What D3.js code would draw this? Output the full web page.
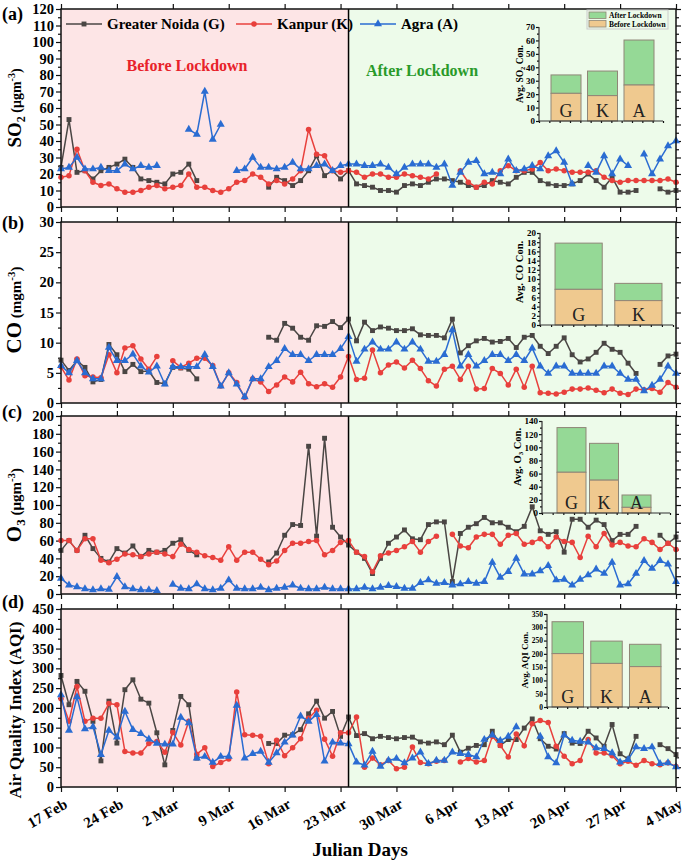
<!DOCTYPE html>
<html><head><meta charset="utf-8">
<script src="https://cdn.jsdelivr.net/npm/d3@7"></script>
<style>body{margin:0;background:#fff} svg{display:block}</style>
</head><body>
<svg id="chart" width="685" height="863"></svg>
<script>
// ---------------- DATA ----------------
const seriesNames = ["Greater Noida (G)", "Kanpur (K)", "Agra (A)"];
const tickLabels = ["17 Feb","24 Feb","2 Mar","9 Mar","16 Mar","23 Mar","30 Mar","6 Apr","13 Apr","20 Apr","27 Apr","4 May"];
const startDay = new Date(Date.UTC(2020,1,17));
const endDay = new Date(Date.UTC(2020,4,4));
const lockdownDay = new Date(Date.UTC(2020,2,24));

const SO2_G = [24,53,21,22,17,22,24,26,29,24, 17,16,15,14,20,21,26,16,null,null,
  null,null,null,null,null,null,12,18,16,13, 16,22,31,19,22,17,22,14,13,12,
  10,10,9,13,14,13,15,17,17,16, 15,13,12,13,16,15,14,18,21,21,
  16,14,13,13,14,16,20,16,12,18, 9,9,10,null,null,11,9,10];
const SO2_K = [18,19,35,22,15,13,14,11,9,9, 10,12,13,11,12,13,20,12,12,10,
  9,11,15,16,20,18,14,16,14,17, 22,47,32,31,22,21,22,21,18,20,
  20,18,18,20,19,18,17,20,null,null, 22,15,12,15,14,22,25,22,22,23,
  27,22,23,22,21,21,21,22,18,16, 15,16,16,16,16,16,17,15];
const SO2_A = [23,24,30,23,23,24,22,22,26,23, 25,24,25,null,null,null,47,44,70,41,
  50,null,22,23,30,24,24,23,24,27, 23,23,25,26,22,25,26,26,25,25,
  26,24,20,24,26,26,26,24,26,13, 21,27,28,20,21,20,29,22,23,25,
  23,31,34,27,14,null,25,21,31,20, 29,25,null,32,20,29,37,40];

const CO_G = [7.1,5.4,7.0,5.9,3.5,3.9,9.7,8.0,5.2,6.4, 5.2,5.3,3.4,3.2,5.9,5.8,5.6,4.0,null,null,
  null,null,null,null,null,null,10.9,10.4,13.2,12.4, 10.9,10.4,12.8,12.7,13.5,12.5,13.9,10.3,13.4,12.0,
  12.6,12.4,12.0,12.0,12.3,11.3,11.2,11.2,10.8,13.9, 8.3,9.5,10.3,10.7,10.1,10.2,10.7,9.2,10.9,11.2,
  9.4,8.2,9.4,10.8,8.0,6.8,7.3,8.4,9.9,8.9, 8.4,6.6,4.9,null,null,6.4,7.8,8.1];
const CO_K = [6.0,3.8,7.3,4.5,4.3,4.2,8.0,5.0,9.1,9.5, 7.3,5.6,7.7,null,7.0,5.9,6.6,7.4,7.4,6.2,
  2.8,5.0,3.4,0.9,4.0,3.5,1.9,3.0,4.3,3.5, 5.1,3.2,2.7,3.2,2.6,4.3,7.7,3.9,4.1,8.8,
  5.0,6.3,6.8,5.8,7.1,5.7,3.7,2.8,5.6,6.1, 3.9,6.1,2.3,2.4,5.7,4.9,3.0,5.6,2.6,6.1,
  1.7,1.6,1.5,1.8,2.3,2.3,2.5,2.1,1.7,2.3, 1.6,1.4,2.3,2.2,2.4,1.8,3.4,2.6];
const CO_A = [6.2,5.0,7.0,5.0,4.0,4.0,9.2,7.0,7.0,8.1, 6.1,5.1,6.1,3.1,6.0,6.0,6.0,6.0,8.0,6.0,
  2.8,5.0,3.1,1.0,4.0,4.0,6.0,7.0,9.0,8.0, 8.0,7.0,8.0,8.0,8.0,9.0,11.0,6.9,8.9,10.1,
  8.9,8.9,10.1,8.9,10.1,8.9,6.9,6.9,8.0,12.1, 6.1,8.0,6.1,7.0,8.0,8.0,7.0,8.0,7.0,9.1,
  6.1,4.9,6.1,6.1,4.9,4.9,4.9,4.9,6.1,6.1, 4.9,3.9,3.9,2.0,2.9,3.9,6.1,4.9];

const O3_G = [49,60,49,66,51,40,36,51,46,54, 42,49,47,49,57,61,49,44,null,null,
  null,null,null,null,null,null,36,46,66,78, 77,166,65,175,75,64,55,47,40,23,
  40,57,64,72,62,61,78,81,81,14, 68,75,79,86,80,80,75,70,76,98,
  71,67,70,47,84,84,75,83,78,60, 67,67,76,null,null,66,57,64];
const O3_K = [60,60,49,62,62,38,35,39,45,44, 42,45,47,45,42,56,50,47,43,41,
  38,53,38,47,47,39,33,37,49,57, 57,59,60,44,49,58,60,47,42,25,
  43,46,49,53,59,47,59,65,null,67, 54,52,64,67,67,56,66,68,56,58,
  62,53,64,59,58,41,65,53,68,55, 58,54,53,62,58,50,57,50];
const O3_A = [17.6,10,8,5.6,4.5,5.6,5,19.4,8,5.6, 4.5,4.5,3.7,null,10.8,6.4,5.6,11.2,5.6,4.5,
  6.4,15.7,6.4,5.6,5.6,7.5,4.5,6.4,7.5,10, 6.4,5.6,5.6,7.5,5.6,5.6,5.6,5.6,7.5,5.6,
  7.5,9.3,8.2,6.4,6.4,12.7,15.7,12,12.7,10, 11.2,13.8,12,13.8,35.5,18.7,25,40,22.4,22.4,
  26,31.8,15.7,16.4,10,16.4,21.3,28,23,35.5, 10,11.2,23,37.4,28.8,37.4,33.6,13.8];

const AQI_G = [282,208,267,242,166,66,217,111,246,271, 222,212,137,56,143,229,208,73,null,null,
  null,null,null,null,null,null,110,110,131,132, 145,185,217,174,191,128,177,130,135,122,
  128,125,122,125,126,114,111,114,107,131, 88,98,105,107,141,105,120,120,149,172,
  122,103,96,135,111,110,141,124,103,158, 84,71,128,null,null,107,97,82];
const AQI_K = [223,166,254,166,174,174,211,208,90,86, 86,110,115,88,138,106,166,83,99,52,
  62,71,240,132,131,128,59,118,79,99, 122,174,194,121,78,137,137,177,50,73,
  56,67,46,50,101,62,59,65,67,null, 63,72,63,67,128,105,76,134,104,160,
  168,163,103,78,59,67,120,86,86,79, 59,65,55,67,59,56,61,52];
const AQI_A = [233,143,228,147,152,82,143,126,191,145, 135,121,110,108,108,176,162,73,77,62,
  77,77,206,73,84,90,62,86,113,131, 179,166,183,65,113,111,109,63,55,90,
  52,67,72,61,73,88,59,67,67,88, 84,82,76,120,131,117,128,152,null,null,
  128,76,61,131,118,115,113,99,97,86, 63,69,101,97,101,59,61,51];

// inset (average concentration) bars
const insetSites3 = ["G","K","A"];
const insetSites2 = ["G","K"];
const SO2_before = [20.6,18.9,26.8], SO2_after = [13.7,18.3,33.5];
const CO_before = [7.75,5.3], CO_after = [10.05,3.75];
const O3_before = [62,50,8.6], O3_after = [68,56,18.8];
const AQI_before = [201,164,152], AQI_after = [120,84,84];
const insetLegend = ["After Lockdown","Before Lockdown"];

// ---------------- STYLE / LAYOUT ----------------
const FONT = "'Liberation Serif','Times New Roman',serif";
const PINK = "#fde5e6", GREEN = "#edfbea";
const TAN = "#efc98f", LGREEN = "#95d996", BARSTROKE = "#8f8677";
const styles = [
  {color:"#4a4644", symbol:d3.symbolSquare, size:24},
  {color:"#e8403c", symbol:d3.symbolCircle, size:24},
  {color:"#2a6cd2", symbol:d3.symbolTriangle, size:28}
];
const X0 = 61, X1 = 676;
const svg = d3.select("#chart");
const days = d3.utcDay.range(startDay, d3.utcDay.offset(endDay, 1));
const tickDays = d3.utcMonday.range(startDay, d3.utcDay.offset(endDay, 1));
const x = d3.scaleUtc().domain([startDay, endDay]).range([X0, X1]);

const panels = [
  {tag:"(a)", tagY:20, top:9, bottom:207, max:120, major:10, minor:5, values:[SO2_G,SO2_K,SO2_A],
   title:[{t:"SO",s:19},{t:"2",s:12,dy:4},{t:" (μgm",s:14,dy:-4},{t:"-3",s:10,dy:-6},{t:")",s:14,dy:6}], titleY:108},
  {tag:"(b)", tagY:229, top:222, bottom:403, max:30, major:5, minor:2.5, values:[CO_G,CO_K,CO_A],
   title:[{t:"CO",s:21},{t:" (mgm",s:15},{t:"-3",s:11,dy:-6},{t:")",s:15,dy:6}], titleY:310},
  {tag:"(c)", tagY:418, top:416, bottom:594, max:200, major:20, minor:10, values:[O3_G,O3_K,O3_A],
   title:[{t:"O",s:21},{t:"3",s:13,dy:4},{t:" (μgm",s:15,dy:-4},{t:"-3",s:11,dy:-6},{t:")",s:15,dy:6}], titleY:505},
  {tag:"(d)", tagY:608, top:609, bottom:787, max:450, major:50, minor:25, values:[AQI_G,AQI_K,AQI_A],
   title:[{t:"Air Quality Index (AQI)",s:17}], titleY:710}
];

const insets = [
  {p:0, axX:539, axEnd:663, top:27, bottom:121, max:70, major:10, minor:5, range:[547.75,657.25], pi:0.178,
   sites:insetSites3, before:SO2_before, after:SO2_after, lab:[{t:"Avg. SO",s:9.5},{t:"2",s:6.5,dy:2},{t:" Con.",s:9.5,dy:-2}], labX:523, labY:74, fs:9, legend:true},
  {p:1, axX:540, axEnd:673, top:233, bottom:325, max:20, major:2, minor:1, range:[548.75,668.25], pi:0.21,
   sites:insetSites2, before:CO_before, after:CO_after, lab:[{t:"Avg. CO Con.",s:10.5}], labX:523, labY:272, fs:9},
  {p:2, axX:542, axEnd:670, top:421, bottom:513, max:140, major:20, minor:10, range:[555.25,652.75], pi:0.108,
   sites:insetSites3, before:O3_before, after:O3_after, lab:[{t:"Avg. O",s:10.5},{t:"3",s:7,dy:2},{t:" Con.",s:10.5,dy:-2}], labX:521, labY:457, fs:9},
  {p:3, axX:547, axEnd:668, top:614, bottom:707, max:350, major:50, minor:25, range:[548.4,664.6], pi:0.187,
   sites:insetSites3, before:AQI_before, after:AQI_after, lab:[{t:"Avg. AQI Con.",s:9}], labX:528, labY:660, fs:7.5}
];

function styleAxis(sel, fs) {
  sel.select(".domain").remove();
  sel.selectAll(".tick line").attr("stroke", "#111").attr("stroke-width", 1.2);
  sel.selectAll(".tick text").attr("font-family", FONT).attr("font-weight", "bold")
     .attr("font-size", fs).attr("fill", "#000");
}
function richText(g, parts, weight) {
  parts.forEach(pt => {
    g.append("tspan").text(pt.t).attr("font-size", pt.s).attr("dy", pt.dy || 0);
  });
  g.attr("font-family", FONT).attr("font-weight", weight || "bold").attr("fill", "#000");
}

panels.forEach((p, pi) => {
  const y = d3.scaleLinear().domain([0, p.max]).range([p.bottom, p.top]);
  const g = svg.append("g");
  const xl = x(lockdownDay);
  g.append("rect").attr("x", X0).attr("y", p.top).attr("width", xl - X0).attr("height", p.bottom - p.top).attr("fill", PINK);
  g.append("rect").attr("x", xl).attr("y", p.top).attr("width", X1 - xl).attr("height", p.bottom - p.top).attr("fill", GREEN);

  const majors = d3.range(0, p.max + 1e-9, p.major);
  const minors = d3.range(p.minor, p.max, p.major);
  g.append("g").attr("transform", `translate(${X0},0)`)
    .call(d3.axisLeft(y).tickValues(majors).tickSize(5).tickPadding(2).tickFormat(d3.format("d"))).call(s => styleAxis(s, 14.5));
  g.append("g").attr("transform", `translate(${X0},0)`)
    .call(d3.axisLeft(y).tickValues(minors).tickSize(3).tickFormat("")).call(s => styleAxis(s, 14.5));
  g.append("g").attr("transform", `translate(${X1},0)`)
    .call(d3.axisRight(y).tickValues(majors).tickSize(5).tickFormat("")).call(s => styleAxis(s, 14.5));
  g.append("g").attr("transform", `translate(${X1},0)`)
    .call(d3.axisRight(y).tickValues(minors).tickSize(3).tickFormat("")).call(s => styleAxis(s, 14.5));
  g.append("g").attr("transform", `translate(0,${p.top})`)
    .call(d3.axisTop(x).tickValues(tickDays).tickSize(5).tickFormat("")).call(s => styleAxis(s, 14.5));
  const bx = g.append("g").attr("transform", `translate(0,${p.bottom})`)
    .call(d3.axisBottom(x).tickValues(tickDays).tickSize(5).tickFormat("")).call(s => styleAxis(s, 14.5));
  if (pi === 3) {
    bx.selectAll(".tick").append("text")
      .text((d, i) => tickLabels[i])
      .attr("text-anchor", "end")
      .attr("transform", "translate(7,20) rotate(-30)")
      .attr("font-family", FONT).attr("font-weight", "bold").attr("font-size", 15).attr("fill", "#000");
  }

  // series
  p.values.forEach((vals, si) => {
    const st = styles[si];
    const line = d3.line().defined(v => v != null).x((v, i) => x(days[i])).y(v => y(v));
    g.append("path").datum(vals).attr("d", line).attr("fill", "none")
      .attr("stroke", st.color).attr("stroke-width", 1.5).attr("stroke-linejoin", "round");
    g.append("g").selectAll("path").data(vals.map((v, i) => ({v, i})).filter(d => d.v != null)).join("path")
      .attr("d", d3.symbol().type(st.symbol).size(st.size))
      .attr("transform", d => `translate(${x(days[d.i])},${y(d.v)})`)
      .attr("fill", st.color);
  });

  // lockdown divider and frame
  g.append("line").attr("x1", xl).attr("x2", xl).attr("y1", p.top).attr("y2", p.bottom).attr("stroke", "#000").attr("stroke-width", 1.5);
  g.append("rect").attr("x", X0).attr("y", p.top).attr("width", X1 - X0).attr("height", p.bottom - p.top)
    .attr("fill", "none").attr("stroke", "#111").attr("stroke-width", 1.5);

  // labels
  svg.append("text").attr("x", 2).attr("y", p.tagY).text(p.tag)
    .attr("font-family", FONT).attr("font-weight", "bold").attr("font-size", 18);
  const tt = svg.append("text").attr("text-anchor", "middle")
    .attr("transform", `translate(21,${p.titleY}) rotate(-90)`);
  richText(tt, p.title);
});

// Before/After text
svg.append("text").attr("x", 187).attr("y", 71).attr("text-anchor", "middle").text("Before Lockdown")
  .attr("font-family", FONT).attr("font-weight", "bold").attr("font-size", 16).attr("fill", "#e8222a");
svg.append("text").attr("x", 422).attr("y", 76).attr("text-anchor", "middle").text("After Lockdown")
  .attr("font-family", FONT).attr("font-weight", "bold").attr("font-size", 16).attr("fill", "#2a9a2a");

// Main legend
const legX = [66, 236, 360];
seriesNames.forEach((n, i) => {
  const st = styles[i];
  const lg = svg.append("g").attr("transform", `translate(${legX[i]},24)`);
  lg.append("line").attr("x1", 0).attr("x2", 36).attr("stroke", st.color).attr("stroke-width", 1.5);
  lg.append("path").attr("d", d3.symbol().type(st.symbol).size(st.size)).attr("transform", "translate(18,0)").attr("fill", st.color);
  lg.append("text").attr("x", 41).attr("y", 5).text(n)
    .attr("font-family", FONT).attr("font-weight", "bold").attr("font-size", 15);
});

// Insets
insets.forEach(ins => {
  const g = svg.append("g");
  const y = d3.scaleLinear().domain([0, ins.max]).range([ins.bottom, ins.top]);
  const xb = d3.scaleBand().domain(ins.sites).range(ins.range).paddingInner(ins.pi).paddingOuter(ins.pi / 2);
  ins.sites.forEach((s, i) => {
    const b = ins.before[i], a = ins.after[i];
    g.append("rect").attr("x", xb(s)).attr("width", xb.bandwidth()).attr("y", y(b + a)).attr("height", y(b) - y(b + a))
      .attr("fill", LGREEN).attr("stroke", BARSTROKE).attr("stroke-width", 1);
    g.append("rect").attr("x", xb(s)).attr("width", xb.bandwidth()).attr("y", y(b)).attr("height", y(0) - y(b))
      .attr("fill", TAN).attr("stroke", BARSTROKE).attr("stroke-width", 1);
    g.append("text").attr("x", xb(s) + xb.bandwidth() / 2).attr("y", ins.bottom - 4).attr("text-anchor", "middle")
      .text(s).attr("font-family", FONT).attr("font-size", 18).attr("fill", "#222");
  });
  const majors = d3.range(0, ins.max + 1e-9, ins.major);
  const minors = d3.range(ins.minor, ins.max, ins.major);
  g.append("g").attr("transform", `translate(${ins.axX},0)`)
    .call(d3.axisLeft(y).tickValues(majors).tickSize(3).tickPadding(1).tickFormat(d3.format("d"))).call(s => styleAxis(s, ins.fs));
  g.append("g").attr("transform", `translate(${ins.axX},0)`)
    .call(d3.axisLeft(y).tickValues(minors).tickSize(2).tickFormat("")).call(s => styleAxis(s, ins.fs));
  const xl = d3.scaleLinear().domain([0, 12]).range([ins.axX, ins.axEnd]);
  g.append("g").attr("transform", `translate(0,${ins.bottom})`)
    .call(d3.axisBottom(xl).ticks(12).tickSize(2).tickFormat("")).call(s => styleAxis(s, ins.fs));
  g.append("line").attr("x1", ins.axX).attr("x2", ins.axX).attr("y1", ins.top).attr("y2", ins.bottom).attr("stroke", "#333").attr("stroke-width", 1.2);
  g.append("line").attr("x1", ins.axX).attr("x2", ins.axEnd).attr("y1", ins.bottom).attr("y2", ins.bottom).attr("stroke", "#333").attr("stroke-width", 1.2);
  const lt = g.append("text").attr("text-anchor", "middle").attr("transform", `translate(${ins.labX},${ins.labY}) rotate(-90)`);
  richText(lt, ins.lab);
  if (ins.legend) {
    const lg = g.append("g");
    lg.append("rect").attr("x", 587).attr("y", 10).attr("width", 81).attr("height", 19).attr("fill", "none").attr("stroke", "#ccc");
    [LGREEN, TAN].forEach((c, i) => {
      lg.append("rect").attr("x", 589).attr("y", 12 + i * 8.5).attr("width", 17).attr("height", 6.5).attr("fill", c).attr("stroke", BARSTROKE).attr("stroke-width", 0.8);
      lg.append("text").attr("x", 609).attr("y", 18 + i * 8.5).text(insetLegend[i])
        .attr("font-family", FONT).attr("font-weight", "bold").attr("font-size", 7.5);
    });
  }
});

// X axis title
svg.append("text").attr("x", 360).attr("y", 856).attr("text-anchor", "middle").text("Julian Days")
  .attr("font-family", FONT).attr("font-weight", "bold").attr("font-size", 19);
</script>
</body></html>
